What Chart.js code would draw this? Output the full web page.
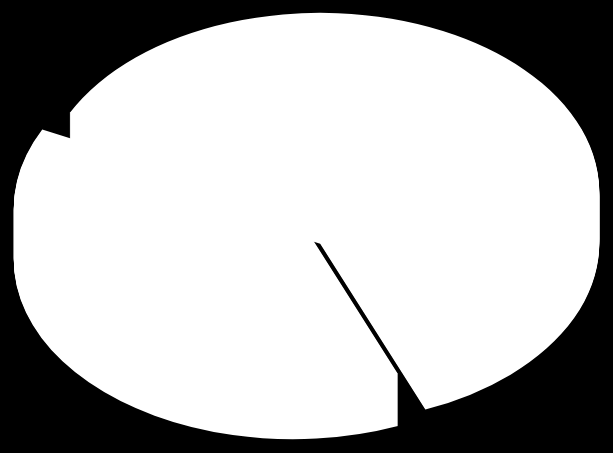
<!doctype html>
<html lang="en">
  <head>
    <meta charset="utf-8">
    <title>Pie</title>
    <style>
      * {
        margin: 0;
        padding: 0;
      }
      html, body {
        background: #000;
        overflow: hidden;
      }
      .chartBox {
        width: 613px;
        height: 453px;
      }
    </style>
  </head>

  <body>
    <div class="chartBox">
      <canvas id="myChart" width="613" height="453"></canvas>
    </div>

    <script type="text/javascript" src="https://cdn.jsdelivr.net/npm/chart.js"></script>

    <script>
    // setup
    const categories = ['Slice A', 'Slice B'];
    const values = [61.6, 38.4];
    const sliceColors = ['#ffffff', '#ffffff'];

    // look of the fake 3d pie
    const tilt = 0.6416;    // vertical squash of the circle
    const depth = 52;       // thickness in px
    const explode = 18.75;  // how far each slice is pulled out

    // black page background
    const blackBackground = {
      id: 'blackBackground',
      beforeDraw(chart) {
        const { ctx, width, height } = chart;
        ctx.save();
        ctx.fillStyle = '#000';
        ctx.fillRect(0, 0, width, height);
        ctx.restore();
      }
    };

    // draws the arcs squashed and stacked, so the pie looks 3d
    const pie3d = {
      id: 'pie3d',
      beforeDatasetsDraw(chart) {
        const { ctx } = chart;
        const arcs = chart.getDatasetMeta(0).data;
        for (let t = depth; t >= 0; t--) {
          arcs.forEach(arc => {
            const mid = (arc.startAngle + arc.endAngle) / 2;
            ctx.save();
            ctx.translate(0, t);
            ctx.translate(arc.x, arc.y);
            ctx.scale(1, tilt);
            ctx.translate(-arc.x, -arc.y);
            ctx.translate(Math.cos(mid) * explode, Math.sin(mid) * explode);
            arc.draw(ctx);
            ctx.restore();
          });
        }
        return false; // skip the normal flat draw
      }
    };

    const config = {
      type: 'pie',
      data: {
        labels: categories,
        datasets: [{
          data: values,
          backgroundColor: sliceColors,
          borderWidth: 0
        }]
      },
      options: {
        responsive: false,
        animation: false,
        rotation: -63.9,
        radius: 279,
        layout: {
          padding: { left: 4, right: 4, top: 0, bottom: 53 }
        },
        plugins: {
          legend: { display: false },
          tooltip: { enabled: false }
        }
      },
      plugins: [blackBackground, pie3d]
    };

    // render init block
    const myChart = new Chart(
      document.getElementById('myChart'),
      config
    );
    </script>

  </body>
</html>
